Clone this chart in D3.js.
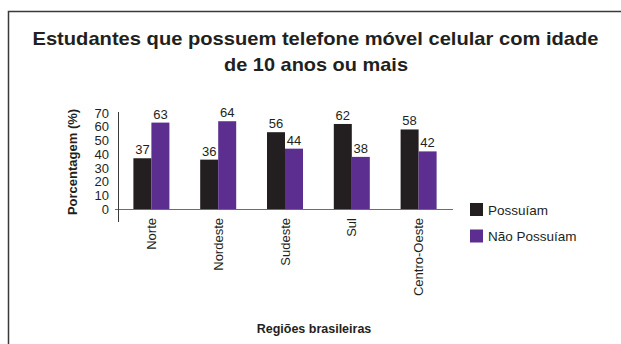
<!DOCTYPE html>
<html>
<head>
<meta charset="utf-8">
<script src="https://cdn.jsdelivr.net/npm/d3@7"></script>
<style>
  html, body { margin: 0; padding: 0; background: #fff; }
  svg { display: block; }
  text { font-family: "Liberation Sans", Arial, Helvetica, sans-serif; fill: #231f20; }
</style>
</head>
<body>
<svg id="chart" width="621" height="344"></svg>
<script>
// Regiões e percentuais de estudantes com celular
const regioes = ["Norte", "Nordeste", "Sudeste", "Sul", "Centro-Oeste"];
const possuiam = [37, 36, 56, 62, 58];
const naoPossuiam = [63, 64, 44, 38, 42];
const series = ["Possuíam", "Não Possuíam"];
const yTicks = [0, 10, 20, 30, 40, 50, 60, 70];

const cores = { "Possuíam": "#231f20", "Não Possuíam": "#5b2e8f" };

const svg = d3.select("#chart");

// moldura (bordas superior e esquerda)
svg.append("path")
  .attr("d", "M8.5,344 V11.5 H621")
  .attr("fill", "none")
  .attr("stroke", "#3a3a3a")
  .attr("stroke-width", 1.5);

// título
const titulo = svg.append("g").attr("font-weight", "bold");
titulo.append("text")
  .attr("x", 315.5).attr("y", 45)
  .attr("text-anchor", "middle")
  .attr("font-size", 18.5)
  .attr("textLength", 566).attr("lengthAdjust", "spacingAndGlyphs")
  .text("Estudantes que possuem telefone móvel celular com idade");
titulo.append("text")
  .attr("x", 316).attr("y", 70.5)
  .attr("text-anchor", "middle")
  .attr("font-size", 18.5)
  .attr("textLength", 184).attr("lengthAdjust", "spacingAndGlyphs")
  .text("de 10 anos ou mais");

// escalas
const x0 = d3.scaleBand().domain(regioes).range([118, 452]).padding(0);
const bw = 18;
const x1 = d3.scaleBand().domain(series).range([0, bw * 2]);
const y = d3.scaleLinear().domain([0, 70]).range([209, 113]);

// eixo y (apenas rótulos)
const yAxis = svg.append("g")
  .attr("transform", "translate(118,0)")
  .call(d3.axisLeft(y).tickValues(yTicks).tickSize(0).tickPadding(9).tickFormat(d3.format("d")));
yAxis.select(".domain").remove();
yAxis.selectAll("text")
  .attr("font-size", 13)
  .style("font-family", "'Liberation Sans',Arial,sans-serif")
  .attr("fill", "#231f20");

// barras
const dados = regioes.map((r, i) => ({ regiao: r, valores: [
  { serie: series[0], valor: possuiam[i] },
  { serie: series[1], valor: naoPossuiam[i] }
]}));

const grupos = svg.append("g").selectAll("g")
  .data(dados).join("g")
  .attr("transform", d => `translate(${x0(d.regiao) + x0.bandwidth() / 2 - bw},0)`);

grupos.selectAll("rect")
  .data(d => d.valores).join("rect")
  .attr("x", d => x1(d.serie))
  .attr("y", d => y(d.valor))
  .attr("width", x1.bandwidth())
  .attr("height", d => y(0) - y(d.valor))
  .attr("fill", d => cores[d.serie]);

grupos.selectAll("text.valor")
  .data(d => d.valores).join("text")
  .attr("class", "valor")
  .attr("x", d => x1(d.serie) + x1.bandwidth() / 2)
  .attr("y", d => y(d.valor) - 4)
  .attr("text-anchor", "middle")
  .attr("font-size", 13)
  .text(d => d.valor);

// linhas dos eixos
svg.append("line")
  .attr("x1", 115).attr("x2", 453)
  .attr("y1", 209.5).attr("y2", 209.5)
  .attr("stroke", "#6d6d6d").attr("stroke-width", 1.2);
svg.append("line")
  .attr("x1", 118.5).attr("x2", 118.5)
  .attr("y1", 112).attr("y2", 222)
  .attr("stroke", "#3a3a3a").attr("stroke-width", 1);

// rótulos das categorias (verticais)
const xAxis = svg.append("g")
  .attr("transform", "translate(0,218)")
  .call(d3.axisBottom(x0).tickSize(0).tickPadding(0));
xAxis.select(".domain").remove();
xAxis.selectAll("text")
  .attr("transform", "rotate(-90)")
  .attr("x", 0).attr("y", 0).attr("dy", "0.35em")
  .attr("dx", 0)
  .attr("text-anchor", "end")
  .attr("font-size", 13)
  .style("font-family", "'Liberation Sans',Arial,sans-serif")
  .attr("fill", "#231f20");

// títulos dos eixos
svg.append("text")
  .attr("transform", "translate(76.5,162) rotate(-90)")
  .attr("text-anchor", "middle")
  .attr("font-size", 13)
  .attr("font-weight", "bold")
  .text("Porcentagem (%)");

svg.append("text")
  .attr("x", 314).attr("y", 333)
  .attr("text-anchor", "middle")
  .attr("font-size", 12.5)
  .attr("font-weight", "bold")
  .text("Regiões brasileiras");

// legenda
const legenda = svg.append("g").selectAll("g")
  .data(series).join("g")
  .attr("transform", (d, i) => `translate(470,${203 + i * 26.5})`);
legenda.append("rect")
  .attr("width", 13).attr("height", 13)
  .attr("fill", d => cores[d]);
legenda.append("text")
  .attr("x", 18).attr("y", 11.5)
  .attr("font-size", 13.5)
  .text(d => d);
</script>
</body>
</html>
